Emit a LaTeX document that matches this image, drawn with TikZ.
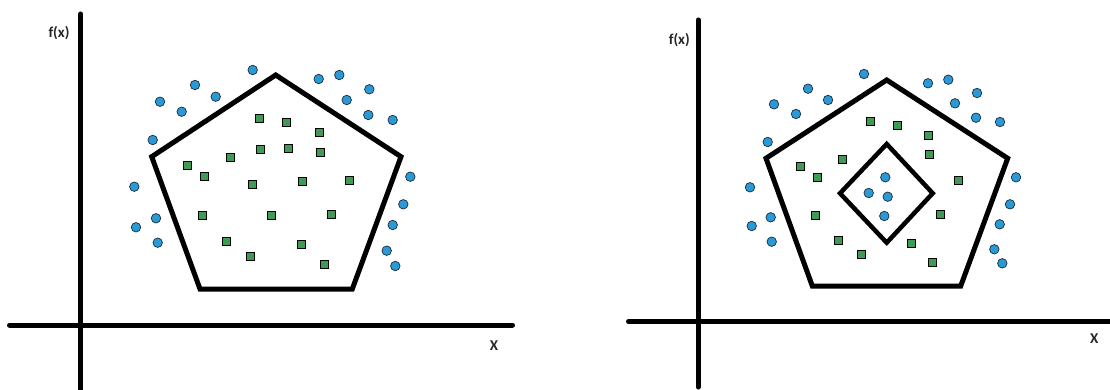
\documentclass[tikz,border=0pt]{standalone}
\usepackage{fontspec}
\setmainfont{Carlito}
\definecolor{dotblue}{HTML}{2A9AD6}
\definecolor{sqgreen}{HTML}{3E9A55}
\definecolor{edgedark}{HTML}{1A2A3A}
\begin{document}
\begin{tikzpicture}[x=1pt,y=-1pt,
  axisline/.style={line width=5pt,line cap=round,black},
  hull/.style={line width=5pt,line join=miter,black},
  bluedot/.style={circle,fill=dotblue,draw=edgedark,line width=0.7pt,minimum size=9.5pt,inner sep=0pt},
  greensq/.style={rectangle,fill=sqgreen,draw=black,line width=0.7pt,minimum size=8pt,inner sep=0pt},
  lbl/.style={font=\fontsize{15}{17}\selectfont\bfseries,text=black!85,inner sep=0pt}]
\useasboundingbox (0,0) rectangle (1110,390);
\fill[white] (0,0) rectangle (1110,390);

% ---------- left panel ----------
\coordinate (LyT) at (80.7,14);
\coordinate (LyB) at (80.7,392);
\coordinate (LxL) at (9.5,325);
\coordinate (LxR) at (512.5,325);
\draw[axisline] (LyT) -- (LyB);
\draw[axisline] (LxL) -- (LxR);
\node[lbl] (Lfx) at (59,33) {f(x)};
\node[lbl] (Lx) at (494,346) {X};

\coordinate (LP1) at (275.7,75);
\coordinate (LP2) at (401,156.7);
\coordinate (LP3) at (352.3,289);
\coordinate (LP4) at (200,289);
\coordinate (LP5) at (151.7,156.7);
\draw[hull] (LP1) -- (LP2) -- (LP3) -- (LP4) -- (LP5) -- cycle;

\foreach \x/\y [count=\i] in {252.7/70,195/85,160/101.7,181.7/111.7,215.7/96.7,152.7/140,134.3/186.7,156/218.3,136/227.3,157.7/242.7,318.7/79,339.3/75,369.3/89.3,346.7/100,368.3/115,392.7/120,410.3/176.7,403.3/204.3,392.7/225,386.7/250.7,395.3/266}
  \node[bluedot] (Lb\i) at (\x,\y) {};

\foreach \x/\y [count=\i] in {259.3/118.3,286.7/122.7,319/132.3,260.3/149.3,288.3/148.7,320/152,230/157.7,187.3/165,204.7/176.3,252.3/184.7,302.7/181.3,349.3/180,202/215.7,271.7/215.7,331.7/214.7,226/241.7,301.7/244.7,250/256.7,324/264.7}
  \node[greensq] (Lg\i) at (\x,\y) {};

% ---------- right panel ----------
\coordinate (RyT) at (698.3,20);
\coordinate (RyB) at (698.3,387);
\coordinate (RxL) at (628.5,321.7);
\coordinate (RxR) at (1115,321.7);
\draw[axisline] (RyT) -- (RyB);
\draw[axisline] (RxL) -- (RxR);
\node[lbl] (Rfx) at (679.3,40) {f(x)};
\node[lbl] (Rx) at (1094.3,339) {X};

\coordinate (RP1) at (886.7,80);
\coordinate (RP2) at (1007.7,158.3);
\coordinate (RP3) at (960.7,286);
\coordinate (RP4) at (812.3,286);
\coordinate (RP5) at (766,158.3);
\draw[hull] (RP1) -- (RP2) -- (RP3) -- (RP4) -- (RP5) -- cycle;

\coordinate (RD1) at (886.7,144);
\coordinate (RD2) at (932.7,193.3);
\coordinate (RD3) at (886.7,242.7);
\coordinate (RD4) at (840,193.3);
\draw[hull,line width=4.5pt] (RD1) -- (RD2) -- (RD3) -- (RD4) -- cycle;

\foreach \x/\y [count=\i] in {864/74,808/88.7,774/104.3,796/114,828/100,767.7/142,750/187.3,770.7/217.3,751.7/226,771.7/241.7,928/83.3,948.3/79.7,977/93,955/103.3,976/117.7,1000/122,1016/177.3,1010/204.3,999.7/224.3,994.3/249.3,1002.3/263.3,885.3/177.3,868.7/193,887.7/196.7,884.3/216}
  \node[bluedot] (Rb\i) at (\x,\y) {};

\foreach \x/\y [count=\i] in {870.7/121.7,897.3/125.7,928.7/135,929.3/154,842.3/159.3,800.3/166.3,817.7/177.3,958.3/180.7,815.7/215.3,940.7/214.3,838.3/240.3,911.7/243.3,861.7/254.7,932.7/262.3}
  \node[greensq] (Rg\i) at (\x,\y) {};
\end{tikzpicture}
\end{document}
